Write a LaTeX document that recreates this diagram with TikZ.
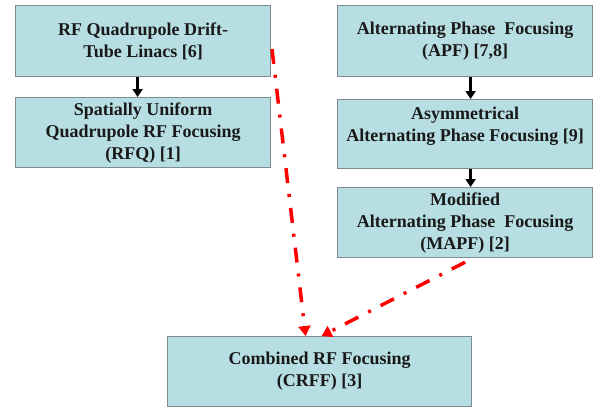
\documentclass[tikz,border=0pt]{standalone}
\usepackage{fontspec}
\setmainfont{Liberation Serif}
\usetikzlibrary{arrows.meta}
\definecolor{boxfill}{RGB}{183,222,226}
\definecolor{boxline}{RGB}{125,140,142}
\definecolor{txt}{RGB}{25,25,25}
\definecolor{altred}{RGB}{255,0,0}
\begin{document}
\begin{tikzpicture}[x=1pt,y=-1pt,
  box/.style={draw=boxline, line width=1.2pt, fill=boxfill, align=center,
    font=\fontsize{18}{22}\selectfont\bfseries, text=txt, inner sep=0pt,
    anchor=north west, minimum width=255pt},
  flow/.style={-{Triangle[length=8pt,width=10pt]}, line width=2.3pt, black},
  alt/.style={altred, line width=3.5pt, dash pattern=on 15pt off 11pt on 3pt off 11pt,
    -{Triangle[length=10pt,width=12pt]}}]
\useasboundingbox (0,0) rectangle (594,407);
\node[box, minimum height=71pt] (b1) at (15,5) {RF Quadrupole Drift-\\Tube Linacs [6]};
\node[box, minimum height=70pt] (b2) at (15,97) {Spatially Uniform\\Quadrupole RF Focusing\\(RFQ) [1]};
\node[box, minimum height=71pt] (apf) at (337,5) {Alternating Phase\ \ Focusing\\(APF) [7,8]};
\node[box, minimum height=69pt, text depth=20pt] (asym) at (337,99) {Asymmetrical\\Alternating Phase Focusing [9]};
\node[box, minimum height=70pt] (mapf) at (337,187) {Modified\\Alternating Phase\ \ Focusing\\(MAPF) [2]};
\node[box, minimum height=70pt, minimum width=304pt] (crff) at (167,336) {Combined RF Focusing\\(CRFF) [3]};
\draw[flow] ([xshift=-5.5pt]b1.south) -- ([xshift=-5.5pt]b2.north);
\draw[flow] ([xshift=5.5pt]apf.south) -- ([xshift=5.5pt]asym.north);
\draw[flow] ([xshift=5.5pt]asym.south) -- ([xshift=5.5pt]mapf.north);
\coordinate (s1) at (272,49);
\draw[alt] (s1) -- ([xshift=-14pt]crff.north);
\draw[alt] ([yshift=-4pt]mapf.south) -- ([xshift=2pt]crff.north);
\end{tikzpicture}
\end{document}
